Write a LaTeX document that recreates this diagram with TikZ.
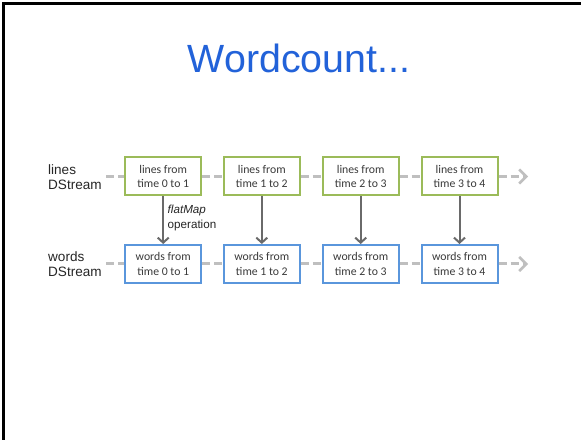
\documentclass[tikz,border=0pt]{standalone}
\usepackage{fontspec}
\setmainfont{Liberation Sans}
\newfontfamily\carl{Carlito}
\usetikzlibrary{arrows.meta}
\definecolor{titleblue}{HTML}{2262D9}
\definecolor{boxgreen}{HTML}{9BBB59}
\definecolor{boxblue}{HTML}{5A96DC}
\definecolor{dashgray}{HTML}{BFBFBF}
\definecolor{arrgray}{HTML}{6A6A6A}
\definecolor{txtgray}{HTML}{3A3A3A}
\tikzset{
  slot/.style={draw, line width=2bp, fill=white, minimum width=76bp, minimum height=38bp, inner sep=0pt,
    align=center, font=\carl\fontsize{11.8}{14.3}\selectfont, text=txtgray},
  linebox/.style={slot, draw=boxgreen},
  wordbox/.style={slot, draw=boxblue},
  rowlabel/.style={anchor=west, align=left, inner sep=0pt, font=\fontsize{13.6}{15}\selectfont, text=black!85},
  flow/.style={draw=dashgray, line width=3bp, dash pattern=on 8bp off 4bp},
  flowend/.style={flow, -{Straight Barb[length=7bp,width=14bp,line width=2.5bp]}},
  mapar/.style={draw=arrgray, line width=2bp, -{Straight Barb[length=5bp,width=11bp,line width=2bp]}},
}
\begin{document}
\begin{tikzpicture}[x=1bp,y=-1bp]
\useasboundingbox (0,0) rectangle (581,440);
\fill[white] (0,0) rectangle (581,440);
\draw[line width=3bp, black] (3.5,440) -- (3.5,3.5) -- (581,3.5);

\node[font=\fontsize{39.5}{42}\selectfont, text=titleblue, inner sep=0pt] (title) at (299,58) {Wordcount...};

\node[rowlabel] (llab) at (48,177) {lines\\DStream};
\node[rowlabel] (wlab) at (48,264) {words\\DStream};

\coordinate (lstart) at (106,176.5);
\coordinate (wstart) at (106,264);
\coordinate (lend) at (528,176.5);
\coordinate (wend) at (528,264);

\node[linebox] (l1) at (163.2,176.5) {lines from\\time 0 to 1};
\node[linebox] (l2) at (261.8,176.5) {lines from\\time 1 to 2};
\node[linebox] (l3) at (360.7,176.5) {lines from\\time 2 to 3};
\node[linebox] (l4) at (459.5,176.5) {lines from\\time 3 to 4};

\node[wordbox] (w1) at (163.2,264) {words from\\time 0 to 1};
\node[wordbox] (w2) at (261.8,264) {words from\\time 1 to 2};
\node[wordbox] (w3) at (360.7,264) {words from\\time 2 to 3};
\node[wordbox] (w4) at (459.5,264) {words from\\time 3 to 4};

\path[flow] (lstart) -- (l1.west);
\path[flow] (l1.east) -- (l2.west);
\path[flow] (l2.east) -- (l3.west);
\path[flow] (l3.east) -- (l4.west);
\path[flowend] (l4.east) -- (lend);

\path[flow] (wstart) -- (w1.west);
\path[flow] (w1.east) -- (w2.west);
\path[flow] (w2.east) -- (w3.west);
\path[flow] (w3.east) -- (w4.west);
\path[flowend] (w4.east) -- (wend);

\path[mapar] (l1) -- (w1);
\path[mapar] (l2) -- (w2);
\path[mapar] (l3) -- (w3);
\path[mapar] (l4) -- (w4);

\node[anchor=west, align=left, inner sep=0pt, font=\fontsize{11.7}{14.6}\selectfont, text=black!85] (op) at (167.5,218) {\textit{flatMap}\\operation};
\end{tikzpicture}
\end{document}
